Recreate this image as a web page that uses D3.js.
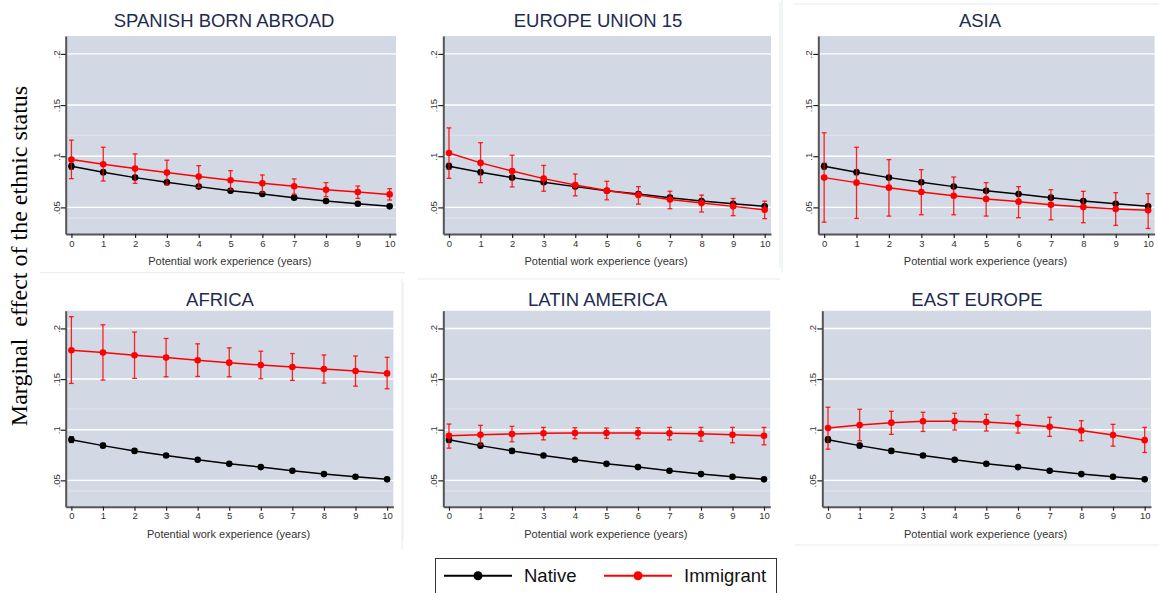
<!DOCTYPE html>
<html><head><meta charset="utf-8">
<script src="https://cdn.jsdelivr.net/npm/d3@7"></script>
<style>body{margin:0;background:#fff}svg{display:block}</style>
</head><body>
<svg id="c" width="1159" height="593"></svg>
<script>
// ---------------- DATA ----------------
const years = [0, 1, 2, 3, 4, 5, 6, 7, 8, 9, 10];
const panelTitles = ["SPANISH BORN ABROAD", "EUROPE UNION 15", "ASIA", "AFRICA", "LATIN AMERICA", "EAST EUROPE"];
const yTickValues = [0.05, 0.1, 0.15, 0.2];
const yTickLabels = [".05", ".1", ".15", ".2"];
const seriesNames = ["Native", "Immigrant"];
const yAxisTitle = "Marginal  effect of the ethnic status";
const xAxisTitle = "Potential work experience (years)";

const native   = [0.0902, 0.0843, 0.0791, 0.0745, 0.0703, 0.0663, 0.0631, 0.0595, 0.0562, 0.0536, 0.0510];
const nativeLo = [0.0874, 0.0821, 0.0772, 0.0730, 0.0691, 0.0653, 0.0622, 0.0587, 0.0554, 0.0529, 0.0503];
const nativeHi = [0.0930, 0.0865, 0.0810, 0.0760, 0.0715, 0.0673, 0.0640, 0.0603, 0.0570, 0.0543, 0.0517];

const spanishBornAbroad   = [0.0967, 0.0922, 0.0879, 0.0840, 0.0801, 0.0765, 0.0735, 0.0706, 0.0673, 0.0650, 0.0627];
const spanishBornAbroadLo = [0.0781, 0.0758, 0.0735, 0.0719, 0.0696, 0.0673, 0.0648, 0.0630, 0.0605, 0.0588, 0.0572];
const spanishBornAbroadHi = [0.1157, 0.1088, 0.1023, 0.0961, 0.0908, 0.0859, 0.0817, 0.0778, 0.0742, 0.0709, 0.0683];

const europeUnion15   = [0.1032, 0.0935, 0.0855, 0.0781, 0.0719, 0.0665, 0.0620, 0.0577, 0.0542, 0.0510, 0.0477];
const europeUnion15Lo = [0.0784, 0.0742, 0.0700, 0.0658, 0.0613, 0.0574, 0.0532, 0.0487, 0.0455, 0.0419, 0.0390];
const europeUnion15Hi = [0.1277, 0.1132, 0.1010, 0.0910, 0.0826, 0.0755, 0.0703, 0.0658, 0.0620, 0.0587, 0.0561];

const asia   = [0.0791, 0.0742, 0.0693, 0.0650, 0.0614, 0.0582, 0.0556, 0.0526, 0.0503, 0.0484, 0.0471];
const asiaLo = [0.0356, 0.0392, 0.0415, 0.0428, 0.0428, 0.0415, 0.0399, 0.0379, 0.0350, 0.0324, 0.0294];
const asiaHi = [0.1229, 0.1088, 0.0967, 0.0869, 0.0797, 0.0742, 0.0703, 0.0673, 0.0657, 0.0644, 0.0634];

const africa   = [0.1785, 0.1762, 0.1735, 0.1712, 0.1685, 0.1662, 0.1639, 0.1619, 0.1599, 0.1579, 0.1556];
const africaLo = [0.1457, 0.1490, 0.1507, 0.1523, 0.1526, 0.1523, 0.1503, 0.1487, 0.1460, 0.1430, 0.1404];
const africaHi = [0.2116, 0.2036, 0.1964, 0.1901, 0.1848, 0.1808, 0.1775, 0.1752, 0.1738, 0.1728, 0.1715];

const latinAmerica   = [0.0940, 0.0950, 0.0957, 0.0964, 0.0967, 0.0967, 0.0967, 0.0964, 0.0960, 0.0950, 0.0940];
const latinAmericaLo = [0.0818, 0.0851, 0.0881, 0.0900, 0.0911, 0.0914, 0.0911, 0.0900, 0.0887, 0.0871, 0.0851];
const latinAmericaHi = [0.1056, 0.1043, 0.1033, 0.1023, 0.1020, 0.1017, 0.1020, 0.1023, 0.1023, 0.1023, 0.1023];

const eastEurope   = [0.1017, 0.1046, 0.1070, 0.1083, 0.1083, 0.1076, 0.1056, 0.1030, 0.0993, 0.0947, 0.0897];
const eastEuropeLo = [0.0808, 0.0891, 0.0954, 0.0983, 0.0997, 0.0987, 0.0967, 0.0934, 0.0891, 0.0838, 0.0775];
const eastEuropeHi = [0.1222, 0.1202, 0.1182, 0.1172, 0.1162, 0.1152, 0.1142, 0.1123, 0.1089, 0.1053, 0.1023];

const immigrantSeries = [
  [spanishBornAbroad, spanishBornAbroadLo, spanishBornAbroadHi],
  [europeUnion15, europeUnion15Lo, europeUnion15Hi],
  [asia, asiaLo, asiaHi],
  [africa, africaLo, africaHi],
  [latinAmerica, latinAmericaLo, latinAmericaHi],
  [eastEurope, eastEuropeLo, eastEuropeHi]
];

// ---------------- LAYOUT ----------------
const rows = [{t: 36, b: 234}, {t: 310.7, b: 506.7}];
const panels = [
  {l: 65.7, r: 396, row: 0, tx: 224, ty: 27.3},
  {l: 443.3, r: 771, row: 0, tx: 598, ty: 27.3},
  {l: 818.3, r: 1154.6, row: 0, tx: 980, ty: 27.3},
  {l: 65.7, r: 393.4, row: 1, tx: 220, ty: 305.6},
  {l: 443.3, r: 770.3, row: 1, tx: 597.7, ty: 305.6},
  {l: 822.3, r: 1151, row: 1, tx: 977, ty: 305.6}
];
const RED = "#ff0000", BLACK = "#000000";
const plotBg = "#d3d9e4";

const svg = d3.select("#c");

// faint graph-region borders
const borderCol = "#e6ecef";
const faint = [
  [40, 272.7, 405, 272.7], [780, 2, 780, 268], [782, 0, 782, 272], [793, 4, 1159, 4],
  [402, 279, 402, 550], [417, 279, 780, 279], [403, 282, 403, 540], [795, 545, 1159, 545]
];
svg.append("g").selectAll("line").data(faint).join("line")
  .attr("x1", d => d[0]).attr("y1", d => d[1]).attr("x2", d => d[2]).attr("y2", d => d[3])
  .attr("stroke", borderCol).attr("stroke-width", 1);

panels.forEach((p, i) => {
  const row = rows[p.row];
  const x = d3.scaleLinear().domain([-0.18, 10.2]).range([p.l, p.r]);
  const y = d3.scaleLinear().domain([0.024, 0.2175]).range([row.b, row.t]);
  const g = svg.append("g");

  g.append("rect").attr("x", p.l).attr("y", row.t).attr("width", p.r - p.l).attr("height", row.b - row.t)
    .attr("fill", plotBg);

  // faint secondary lines
  g.selectAll("line.faint").data([0.1205, 0.0396]).join("line").attr("class", "faint")
    .attr("x1", p.l).attr("x2", p.r).attr("y1", d => y(d)).attr("y2", d => y(d))
    .attr("stroke", "#ffffff").attr("stroke-opacity", 0.3).attr("stroke-width", 1);

  // gridlines
  g.selectAll("line.grid").data(yTickValues).join("line").attr("class", "grid")
    .attr("x1", p.l).attr("x2", p.r).attr("y1", d => y(d)).attr("y2", d => y(d))
    .attr("stroke", "#ffffff").attr("stroke-width", 1.4);

  // title
  g.append("text").attr("x", p.tx).attr("y", p.ty).attr("text-anchor", "middle")
    .attr("font-family", "Liberation Sans, Arial, sans-serif").attr("font-size", 18.5)
    .attr("fill", "#1e2b4f").text(panelTitles[i]);

  // x axis
  const xa = g.append("g").attr("transform", `translate(0,${row.b})`)
    .call(d3.axisBottom(x).tickValues(years).tickSize(4).tickSizeOuter(0).tickPadding(2).tickFormat(d3.format("d")));
  xa.select(".domain").attr("stroke", "#555").attr("stroke-width", 2);
  xa.selectAll(".tick line").attr("stroke", "#222").attr("stroke-width", 1.2);
  xa.selectAll(".tick text").attr("font-family", "Liberation Sans, Arial, sans-serif").attr("font-size", 9.5).attr("fill", "#333");

  // y axis
  const ya = g.append("g").attr("transform", `translate(${p.l},0)`)
    .call(d3.axisLeft(y).tickValues(yTickValues).tickSize(5).tickSizeOuter(0)
      .tickFormat((d, k) => yTickLabels[k]));
  ya.select(".domain").attr("stroke", "#555").attr("stroke-width", 2);
  ya.selectAll(".tick line").attr("stroke", "#222").attr("stroke-width", 1.2);
  ya.selectAll(".tick text").attr("font-family", "Liberation Sans, Arial, sans-serif").attr("font-size", 9.5)
    .attr("fill", "#333").attr("transform", "rotate(-90)").attr("x", 0).attr("y", -6).attr("dy", 0)
    .attr("text-anchor", "middle");

  // x title
  g.append("text").attr("x", (p.l + p.r) / 2 - 1).attr("y", row.b + 31)
    .attr("text-anchor", "middle").attr("font-family", "Liberation Sans, Arial, sans-serif")
    .attr("font-size", 11).attr("fill", "#333").text(xAxisTitle);

  const [imm, immLo, immHi] = immigrantSeries[i];
  const drawSeries = (vals, lo, hi, col) => {
    const s = g.append("g");
    const line = d3.line().x((d, k) => x(years[k])).y(d => y(d));
    // error bars
    s.selectAll("line.eb").data(years).join("line").attr("class", "eb")
      .attr("x1", d => x(d)).attr("x2", d => x(d)).attr("y1", (d, k) => y(lo[k])).attr("y2", (d, k) => y(hi[k]))
      .attr("stroke", col).attr("stroke-width", 1.3).attr("stroke-opacity", 0.85);
    ["lo", "hi"].forEach(w => {
      const arr = w === "lo" ? lo : hi;
      s.selectAll("line.cap" + w).data(years).join("line").attr("class", "cap" + w)
        .attr("x1", d => x(d) - 2.4).attr("x2", d => x(d) + 2.4).attr("y1", (d, k) => y(arr[k])).attr("y2", (d, k) => y(arr[k]))
        .attr("stroke", col).attr("stroke-width", 1.3).attr("stroke-opacity", 0.85);
    });
    s.append("path").attr("d", line(vals)).attr("fill", "none").attr("stroke", col).attr("stroke-width", 1.5);
    s.selectAll("circle").data(vals).join("circle")
      .attr("cx", (d, k) => x(years[k])).attr("cy", d => y(d)).attr("r", 3.3).attr("fill", col);
  };
  drawSeries(native, nativeLo, nativeHi, BLACK);
  drawSeries(imm, immLo, immHi, RED);
});

// global y title
svg.append("text").attr("transform", "translate(27,256) rotate(-90)").attr("text-anchor", "middle")
  .attr("font-family", "Liberation Serif, Times New Roman, serif").attr("font-size", 24)
  .style("white-space", "pre").attr("fill", "#000").text(yAxisTitle);

// legend
const lg = svg.append("g");
lg.append("rect").attr("x", 435.5).attr("y", 558.5).attr("width", 341).attr("height", 40)
  .attr("fill", "#fff").attr("stroke", "#333").attr("stroke-width", 1);
const legendItems = [
  {name: seriesNames[0], col: BLACK, x1: 444, x2: 512, tx: 524},
  {name: seriesNames[1], col: RED, x1: 604, x2: 672, tx: 684}
];
legendItems.forEach(it => {
  lg.append("line").attr("x1", it.x1).attr("x2", it.x2).attr("y1", 575.7).attr("y2", 575.7)
    .attr("stroke", it.col).attr("stroke-width", 2);
  lg.append("circle").attr("cx", (it.x1 + it.x2) / 2).attr("cy", 575.7).attr("r", 4.5).attr("fill", it.col);
  lg.append("text").attr("x", it.tx).attr("y", 582.3).attr("font-family", "Liberation Sans, Arial, sans-serif")
    .attr("font-size", 18.5).attr("fill", "#111").text(it.name);
});
</script>
</body></html>
